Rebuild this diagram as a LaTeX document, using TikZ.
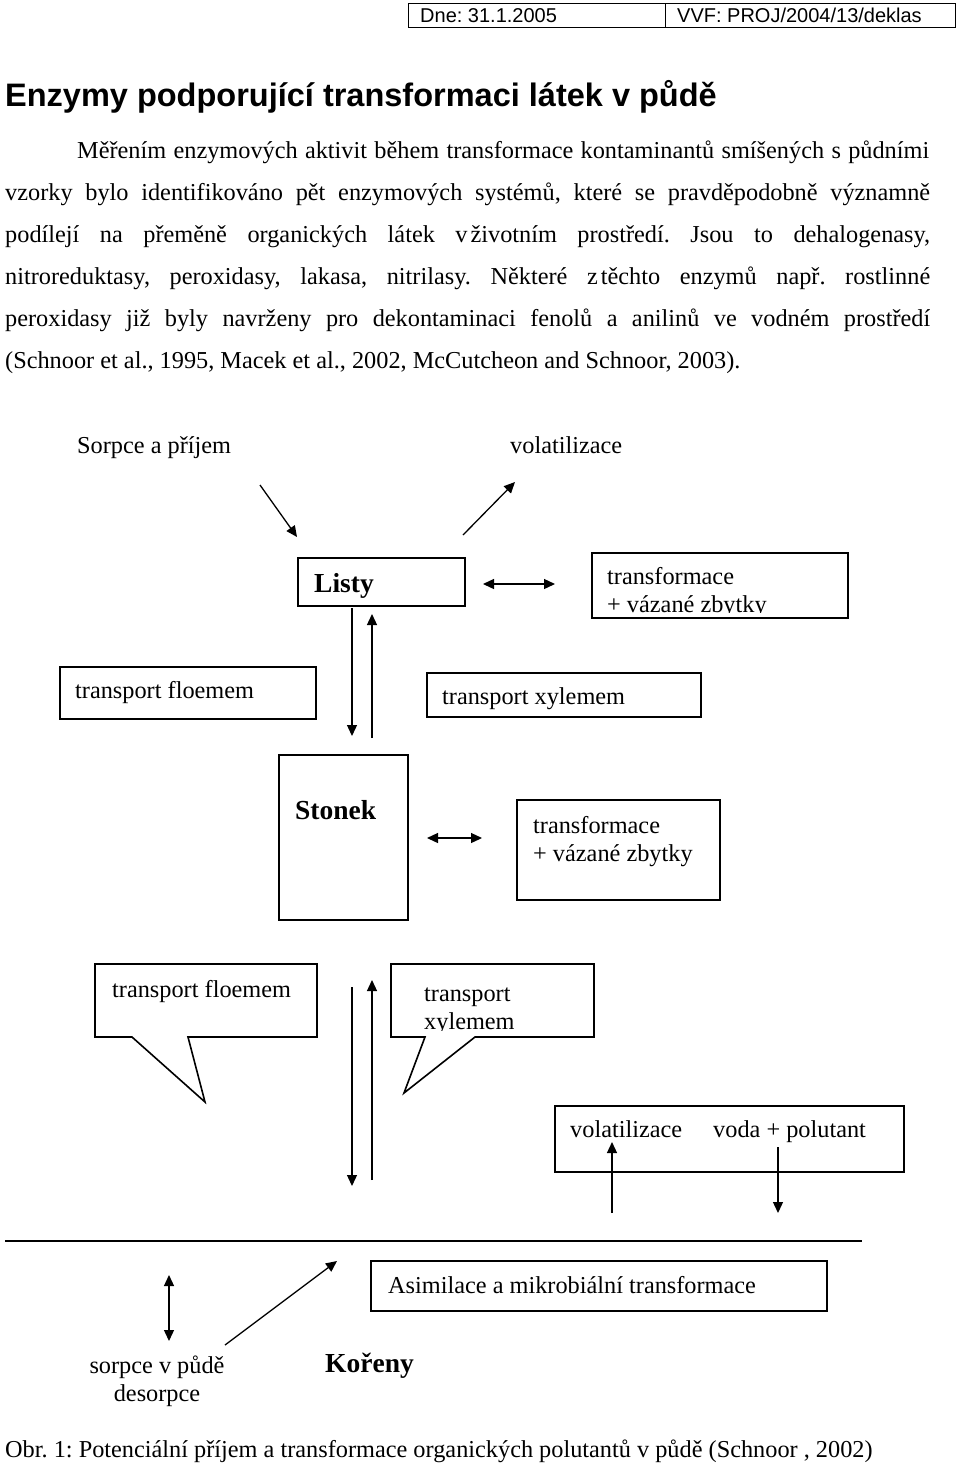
\documentclass[tikz,border=0pt]{standalone}
\usepackage{fontspec}
\setmainfont{Liberation Serif}
\newfontfamily\arialf{Liberation Sans}
\usetikzlibrary{arrows.meta}
\frenchspacing
\begin{document}
\begin{tikzpicture}[x=1pt,y=-1pt,
  txt/.style={anchor=base west,inner sep=0pt,font=\fontsize{24.3}{28}\selectfont},
  btxt/.style={anchor=base west,inner sep=0pt,font=\fontsize{27.5}{31}\selectfont\bfseries},
  hdr/.style={anchor=base west,inner sep=0pt,font=\fontsize{20}{23}\selectfont\arialf},
  bx/.style={draw,line width=1.6pt,inner sep=0pt},
  thin/.style={draw,line width=1pt},
  tipstyle/.tip={Triangle[length=11pt,width=10pt]},
  arr/.style={line width=1.3pt,-tipstyle},
  darr/.style={line width=1.3pt,tipstyle-tipstyle},
  ]
\useasboundingbox (0,0) rectangle (960,1465);
% header
\draw[thin] (408,3) rectangle (955,27);
\draw[thin] (665,3) -- (665,27);
\node[hdr] (dne) at (420,22) {Dne: 31.1.2005};
\node[hdr] (vvf) at (677,22) {VVF: PROJ/2004/13/deklas};
% heading
\node[anchor=base west,inner sep=0pt,font=\fontsize{32.5}{36}\selectfont\arialf\bfseries] (title) at (5,106) {Enzymy podporující transformaci látek v půdě};
% paragraph
\node[txt] (p1) at (77,158) {\makebox[852pt][s]{Měřením enzymových aktivit během transformace kontaminantů smíšených s půdními}};
\node[txt] (p2) at (5,200) {\makebox[925pt][s]{vzorky bylo identifikováno pět enzymových systémů, které se pravděpodobně významně}};
\node[txt] (p3) at (5,242) {\makebox[925pt][s]{podílejí na přeměně organických látek v\hspace{3pt}životním prostředí. Jsou to dehalogenasy,}};
\node[txt] (p4) at (5,284) {\makebox[925pt][s]{nitroreduktasy, peroxidasy, lakasa, nitrilasy. Některé z\hspace{3pt}těchto enzymů např. rostlinné}};
\node[txt] (p5) at (5,326) {\makebox[925pt][s]{peroxidasy již byly navrženy pro dekontaminaci fenolů a anilinů ve vodném prostředí}};
\node[txt] (p6) at (5,368) {(Schnoor et al., 1995, Macek et al., 2002, McCutcheon and Schnoor, 2003).};
% top labels
\node[txt] (sorpce) at (77,453) {Sorpce a příjem};
\node[txt] (volat) at (510,453) {volatilizace};
\coordinate (a1s) at (260,485); \coordinate (a1e) at (297,537);
\draw[arr] (a1s) -- (a1e);
\coordinate (a2s) at (463,535); \coordinate (a2e) at (515,482);
\draw[arr] (a2s) -- (a2e);
% Listy
\node[bx,minimum width=167pt,minimum height=48pt] (listybox) at (381.5,582) {};
\node[btxt] (listy) at (314,592) {Listy};
\coordinate (d1s) at (483,584); \coordinate (d1e) at (555,584);
\draw[darr] (d1s) -- (d1e);
\node[bx,minimum width=256pt,minimum height=65pt] (tr1box) at (720,585.5) {};
\node[txt] (tr1a) at (607,584) {transformace};
\begin{scope}
\clip (592,590) rectangle (848,612);
\node[txt] (tr1b) at (607,612) {+ vázané zbytky};
\end{scope}
% vertical arrows Listy-Stonek
\coordinate (v1s) at (352,608); \coordinate (v1e) at (352,736);
\draw[arr] (v1s) -- (v1e);
\coordinate (v2s) at (372,738); \coordinate (v2e) at (372,614);
\draw[arr] (v2s) -- (v2e);
% transport boxes
\node[bx,minimum width=256pt,minimum height=52pt] (flbox) at (188,693) {};
\node[txt] (fl) at (75,698) {transport floemem};
\node[bx,minimum width=274pt,minimum height=44pt] (xybox) at (564,695) {};
\node[txt] (xy) at (442,704) {transport xylemem};
% Stonek
\node[bx,minimum width=129pt,minimum height=165pt] (stbox) at (343.5,837.5) {};
\node[btxt] (stonek) at (295,819) {Stonek};
\coordinate (d2s) at (427,838); \coordinate (d2e) at (482,838);
\draw[darr] (d2s) -- (d2e);
\node[bx,minimum width=203pt,minimum height=100pt] (tr2box) at (618.5,850) {};
\node[txt] (tr2a) at (533,833) {transformace};
\node[txt] (tr2b) at (533,861) {+ vázané zbytky};
% callouts
\draw[line width=1.6pt,line join=miter] (95,964) -- (317,964) -- (317,1037) -- (188,1037) -- (205,1102) -- (132,1037) -- (95,1037) -- cycle;
\node[txt] (fl2) at (112,997) {transport floemem};
\draw[line width=1.6pt,line join=miter] (391,964) -- (594,964) -- (594,1037) -- (475,1037) -- (404,1093) -- (425,1037) -- (391,1037) -- cycle;
\node[txt] (xy2a) at (424,1001) {transport};
\begin{scope}
\clip (392,1005) rectangle (593,1030);
\node[txt] (xy2b) at (424,1029) {xylemem};
\end{scope}
% vertical arrows Stonek-Koreny
\coordinate (v3s) at (352,987); \coordinate (v3e) at (352,1186);
\draw[arr] (v3s) -- (v3e);
\coordinate (v4s) at (372,1180); \coordinate (v4e) at (372,980);
\draw[arr] (v4s) -- (v4e);
% volatilizace / voda box
\node[bx,minimum width=349pt,minimum height=66pt] (vvbox) at (729.5,1139) {};
\node[txt] (vol2) at (570,1137) {volatilizace};
\node[txt] (voda) at (713,1137) {voda + polutant};
\coordinate (v5s) at (612,1213); \coordinate (v5e) at (612,1142);
\draw[arr] (v5s) -- (v5e);
\coordinate (v6s) at (778,1147); \coordinate (v6e) at (778,1213);
\draw[arr] (v6s) -- (v6e);
% ground line
\coordinate (g1) at (5,1241); \coordinate (g2) at (862,1241);
\draw[line width=1.3pt] (g1) -- (g2);
% roots
\coordinate (d3s) at (169,1275); \coordinate (d3e) at (169,1341);
\draw[darr] (d3s) -- (d3e);
\coordinate (a3s) at (225,1345); \coordinate (a3e) at (337,1261);
\draw[arr] (a3s) -- (a3e);
\node[bx,minimum width=456pt,minimum height=50pt] (asbox) at (599,1286) {};
\node[txt] (asim) at (388,1293) {Asimilace a mikrobiální transformace};
\node[txt,anchor=base] (sorp2) at (157,1373) {sorpce v půdě};
\node[txt,anchor=base] (desorp) at (157,1401) {desorpce};
\node[btxt] (koreny) at (325,1372) {Kořeny};
% caption
\node[txt] (caption) at (5,1457) {Obr. 1: Potenciální příjem a transformace organických polutantů v půdě (Schnoor , 2002)};
\end{tikzpicture}
\end{document}
